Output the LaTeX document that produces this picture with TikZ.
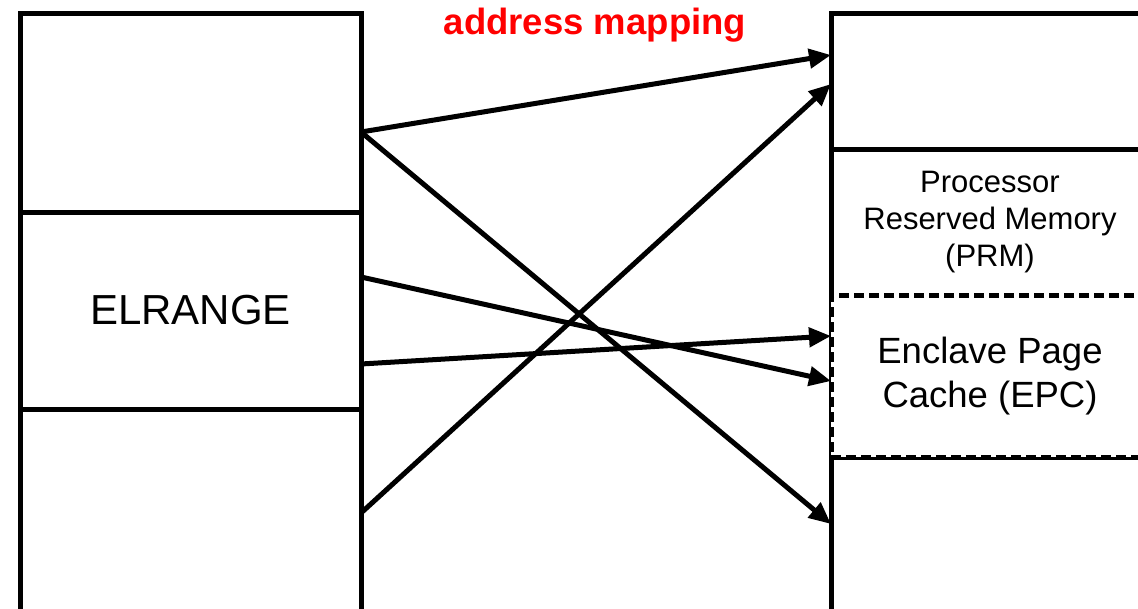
\documentclass[tikz,border=0pt]{standalone}
\usepackage{fontspec}
\setmainfont{Liberation Sans}
\usetikzlibrary{arrows.meta}
\begin{document}
\begin{tikzpicture}[x=1pt,y=-1pt,
  box/.style={draw=black,line width=5pt,rectangle,inner sep=0pt,outer sep=0pt,anchor=north west,fill=white},
  plain/.style={rectangle,inner sep=0pt,outer sep=0pt,anchor=north west},
  epcbox/.style={box,dash pattern=on 10pt off 5pt},
  map/.style={line width=5pt,-{Triangle[length=22pt,width=19pt]}},
  bigtxt/.style={font=\fontsize{42}{50}\selectfont},
  epctxt/.style={font=\fontsize{36.5}{43.5}\selectfont,align=center},
  prmtxt/.style={font=\fontsize{31}{37}\selectfont,align=center},
  titletxt/.style={font=\fontsize{36.5}{44}\selectfont\bfseries,text=red}
]
\useasboundingbox (0,0) rectangle (1138,608);
\clip (0,0) rectangle (1138,608);
\fill[white] (0,0) rectangle (1138,608);
% left column
\node[box,minimum width=341pt,minimum height=199pt] (ltop) at (20,13) {};
\node[box,minimum width=341pt,minimum height=197pt,bigtxt] (lmid) at (20,212) {ELRANGE};
\node[box,minimum width=341pt,minimum height=203pt] (lbot) at (20,409) {};
% right column
\node[box,minimum width=318pt,minimum height=136pt] (rtop) at (831,13) {};
\node[box,minimum width=318pt,minimum height=463pt] (rrest) at (831,149) {};
\node[plain,minimum width=318pt,minimum height=146pt,prmtxt] (rprm) at (831,149) {Processor\\Reserved Memory\\(PRM)};
\node[box,minimum width=318pt,minimum height=155pt] (rbot) at (831,457) {};
\node[epcbox,minimum width=318pt,minimum height=162pt,epctxt] (repc) at (831,295) {Enclave Page\\Cache (EPC)};
% title
\node[titletxt,anchor=base] (title) at (595,34) {address mapping};
% mappings
\draw[map] ([yshift=-119pt]ltop.north east) -- ([yshift=-42pt]rtop.north west);
\draw[map] ([yshift=-119pt]ltop.north east) -- ([yshift=-67pt]rbot.north west);
\draw[map] ([yshift=-65pt]lmid.north east) -- ([yshift=-86pt]repc.north west);
\draw[map] ([yshift=-152pt]lmid.north east) -- ([yshift=-41pt]repc.north west);
\draw[map] ([yshift=-104pt]lbot.north east) -- ([yshift=-71pt]rtop.north west);
\end{tikzpicture}
\end{document}
